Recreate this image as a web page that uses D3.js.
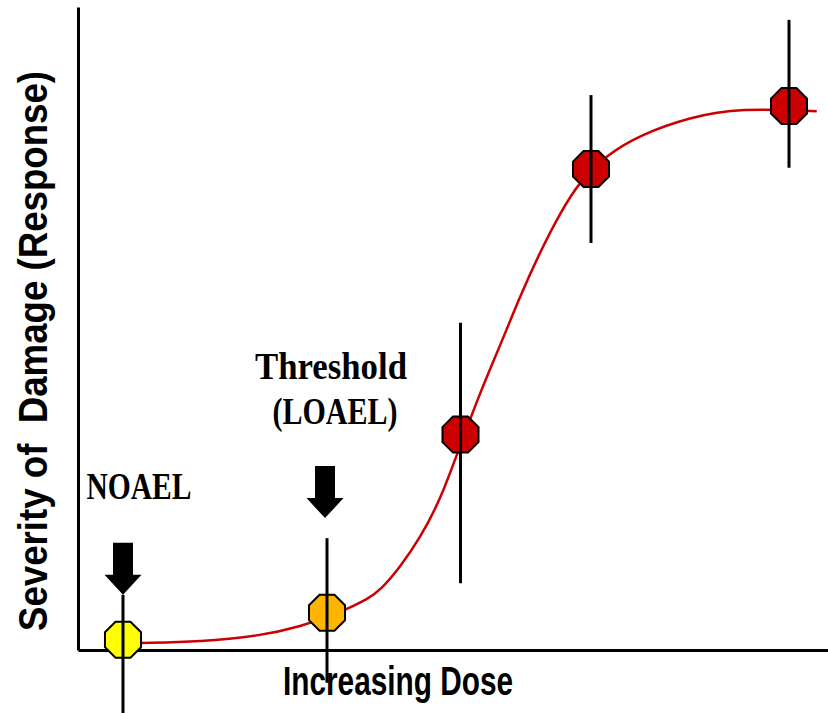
<!DOCTYPE html>
<html>
<head>
<meta charset="utf-8">
<script src="https://cdn.jsdelivr.net/npm/d3@7"></script>
<style>
  body { margin: 0; background: #fff; }
</style>
</head>
<body>
<div id="chart"></div>
<script>
// dose / response points (axis units 0-100)
var dose     = [6, 33.2, 51.0, 68.4, 94.8];
var response = [1.6, 5.8, 33.5, 74.8, 84.6];
var errLow   = [-9.8, -5.1, 10.4, 63.3, 75.0];
var errHigh  = [8.6, 17.4, 50.9, 86.3, 98.0];
var fills    = ["#ffff00", "#ffb400", "#cc0000", "#cc0000", "#cc0000"];

// fitted curve
var curveDose = [8.5, 16.3, 24.3, 29.6, 34.9, 38.9, 40.3, 42.9, 45.6, 48.3, 50.9, 53.6, 56.3, 58.9, 61.6, 64.3, 66.9, 70.5, 74.9, 81.6, 88.3, 98.5];
var curveResp = [1.1, 1.25, 2.2, 3.6, 5.8, 8.1, 9.3, 12.8, 17.4, 23.3, 31.6, 40.0, 47.4, 54.9, 61.9, 68.0, 72.9, 77.0, 80.1, 82.9, 84.3, 83.8];

var xLabel = "Increasing Dose";
var yLabel = "Severity of  Damage (Response)";

var W = 828, H = 713;
var x0 = 78, x1 = 828, y0 = 650, y1 = 7;

var svg = d3.select("#chart")
  .append("svg")
    .attr("width", W)
    .attr("height", H);

var x = d3.scaleLinear().domain([0, 100]).range([x0, x1]);
var y = d3.scaleLinear().domain([0, 100]).range([y0, y1]);

// axes (plain lines, no ticks)
svg.append("g")
  .attr("transform", "translate(0," + y0 + ")")
  .call(d3.axisBottom(x).tickValues([]).tickSizeOuter(0))
  .select(".domain").attr("stroke", "#000").attr("stroke-width", 3);
svg.append("g")
  .attr("transform", "translate(" + x0 + ",0)")
  .call(d3.axisLeft(y).tickValues([]).tickSizeOuter(0))
  .select(".domain").attr("stroke", "#000").attr("stroke-width", 3);

// curve
var curvePts = curveDose.map(function(d, i) { return [d, curveResp[i]]; });
var line = d3.line()
  .x(function(d) { return x(d[0]); })
  .y(function(d) { return y(d[1]); })
  .curve(d3.curveBasis);
svg.append("path")
  .datum(curvePts)
  .attr("d", line)
  .attr("fill", "none")
  .attr("stroke", "#cc0000")
  .attr("stroke-width", 2.5);

var pts = dose.map(function(d, i) {
  return {dose: d, resp: response[i], lo: errLow[i], hi: errHigh[i], fill: fills[i]};
});

// octagon markers
function octagon(cx, cy, r) {
  var p = [];
  for (var k = 0; k < 8; k++) {
    var a = Math.PI / 8 + k * Math.PI / 4;
    p.push([cx + r * Math.cos(a), cy + r * Math.sin(a)]);
  }
  return p.join(" ");
}
svg.selectAll("polygon.marker")
  .data(pts)
  .enter()
  .append("polygon")
  .attr("class", "marker")
  .attr("points", function(d) { return octagon(x(d.dose), y(d.resp), 19.5); })
  .attr("fill", function(d) { return d.fill; })
  .attr("stroke", "#000")
  .attr("stroke-width", 2);

// error bars on top
svg.selectAll("line.err")
  .data(pts)
  .enter()
  .append("line")
  .attr("class", "err")
  .attr("x1", function(d) { return x(d.dose); })
  .attr("x2", function(d) { return x(d.dose); })
  .attr("y1", function(d) { return y(d.hi); })
  .attr("y2", function(d) { return y(d.lo); })
  .attr("stroke", "#000")
  .attr("stroke-width", 3);

// arrows pointing at NOAEL and LOAEL
function arrow(cx, tip) {
  return [[cx - 10, tip - 52], [cx + 10, tip - 52], [cx + 10, tip - 20],
          [cx + 18.5, tip - 20], [cx, tip], [cx - 18.5, tip - 20], [cx - 10, tip - 20]].join(" ");
}
svg.append("polygon")
  .attr("points", arrow(x(dose[0]), y(errHigh[0])))
  .attr("fill", "#000");
svg.append("polygon")
  .attr("points", arrow(x(dose[1]) - 2, y(errHigh[1]) - 20))
  .attr("fill", "#000");

// annotation text
function serif(t, px, py, len) {
  svg.append("text")
    .attr("x", px).attr("y", py)
    .attr("text-anchor", "middle")
    .attr("font-family", "Liberation Serif")
    .attr("font-weight", "bold")
    .attr("font-size", "38px")
    .attr("textLength", len)
    .attr("lengthAdjust", "spacingAndGlyphs")
    .text(t);
}
serif("NOAEL", 139, 499, 105);
serif("Threshold", 331, 379, 152);
serif("(LOAEL)", 335, 424, 125);

// axis titles
svg.append("text")
  .attr("x", 283).attr("y", 695)
  .attr("font-family", "Liberation Sans")
  .attr("font-weight", "bold")
  .attr("font-size", "41px")
  .attr("textLength", 230)
  .attr("lengthAdjust", "spacingAndGlyphs")
  .text(xLabel);

svg.append("text")
  .attr("transform", "translate(47,351) rotate(-90)")
  .attr("text-anchor", "middle")
  .attr("font-family", "Liberation Sans")
  .attr("font-weight", "bold")
  .attr("font-size", "41px")
  .attr("textLength", 560)
  .attr("lengthAdjust", "spacingAndGlyphs")
  .style("white-space", "pre")
  .text(yLabel);
</script>
</body>
</html>
